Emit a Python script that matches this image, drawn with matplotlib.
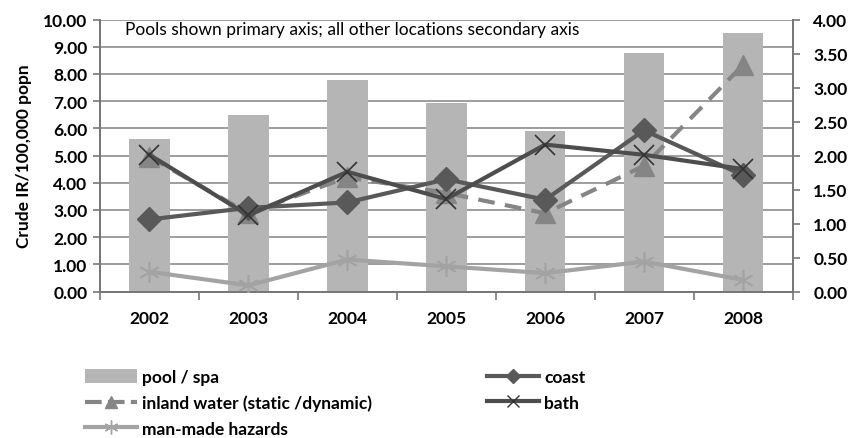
import matplotlib
matplotlib.use("Agg")
import matplotlib.pyplot as plt
import numpy as np
from matplotlib.lines import Line2D
from matplotlib.patches import Patch

years = ["2002", "2003", "2004", "2005", "2006", "2007", "2008"]
pool_spa = [5.62, 6.48, 7.79, 6.93, 5.91, 8.78, 9.52]
coast = [1.06, 1.23, 1.31, 1.65, 1.35, 2.37, 1.71]
inland_water = [1.98, 1.15, 1.68, 1.45, 1.15, 1.85, 3.33]
bath = [2.01, 1.12, 1.76, 1.36, 2.16, 2.01, 1.80]
man_made = [0.29, 0.09, 0.47, 0.37, 0.27, 0.44, 0.17]

plt.rcParams['font.family'] = ['Lato', 'DejaVu Sans']

W, H = 860, 439
fig = plt.figure(figsize=(W / 100, H / 100), dpi=100)
ax = fig.add_axes([100 / W, (H - 292.5) / H, (792.5 - 100) / W, (292.5 - 20.5) / H])
ax2 = ax.twinx()

FS = 12.5
x = np.arange(len(years))
ax.bar(x, pool_spa, width=0.41, color='#b5b5b5', zorder=2)
ax.set_xlim(-0.5, len(years) - 0.5)
ax.set_ylim(0, 10)
ax.set_yticks(np.arange(0, 10.01, 1))
ax.set_yticklabels([f"{v:.2f}" for v in np.arange(0, 10.01, 1)], fontweight='bold', fontsize=FS)
ax.grid(axis='y', color='#8c8c8c', linewidth=1.2, zorder=0)
ax.set_axisbelow(True)
ax.set_xticks(x)
ax.set_xticklabels(years, fontweight='bold', fontsize=FS)
ax.set_xticks(np.arange(-0.5, len(years), 1), minor=True)
ax.tick_params(axis='x', which='major', length=0, pad=13)
ax.tick_params(axis='x', which='minor', length=6, width=1.2, color='#777777', direction='out')
ax.tick_params(axis='y', length=5, width=1.2, color='#777777', pad=4)
ax.set_ylabel("Crude IR/100,000 popn", fontweight='bold', fontsize=FS, labelpad=8)

ax2.set_ylim(0, 4)
ax2.set_yticks(np.arange(0, 4.01, 0.5))
ax2.set_yticklabels([f"{v:.2f}" for v in np.arange(0, 4.01, 0.5)], fontweight='bold', fontsize=FS)
ax2.tick_params(axis='y', length=5, width=1.2, color='#777777', pad=10)

for a in (ax, ax2):
    a.spines['top'].set_visible(False)
    for s in ['left', 'right', 'bottom']:
        a.spines[s].set_color('#777777')
        a.spines[s].set_linewidth(1.3)

ax2.plot(x, man_made, color='#a3a3a3', linewidth=3, marker=(6, 2, 0), markersize=15,
         markeredgewidth=1.2, markeredgecolor='#a3a3a3', zorder=3)
ax2.plot(x, inland_water, color='#858585', linewidth=3, linestyle=(0, (4, 2.5)), marker='^',
         markersize=15, markerfacecolor='#858585', markeredgecolor='#858585', zorder=3)
ax2.plot(x, coast, color='#595959', linewidth=3, marker='D', markersize=12,
         markerfacecolor='#595959', markeredgecolor='#595959', zorder=4)
ax2.plot(x, bath, color='#4d4d4d', linewidth=3, marker='x', markersize=15,
         markeredgewidth=1.2, markeredgecolor='#333333', zorder=4)

ax.text(125 / W, (H - 30) / H, "Pools shown primary axis; all other locations secondary axis",
        transform=fig.transFigure, ha='left', va='center', fontsize=12.5)

h_pool = Patch(facecolor='#b5b5b5', edgecolor='none')
h_inland = Line2D([], [], color='#858585', linewidth=3, linestyle=(0, (4, 1.5)), marker='^',
                  markersize=9, markerfacecolor='#858585', markeredgecolor='#858585')
h_man = Line2D([], [], color='#a3a3a3', linewidth=3, marker=(6, 2, 0), markersize=10,
               markeredgecolor='#a3a3a3')
h_coast = Line2D([], [], color='#595959', linewidth=3, marker='D', markersize=7,
                 markerfacecolor='#595959', markeredgecolor='#595959')
h_bath = Line2D([], [], color='#4d4d4d', linewidth=3, marker='x', markersize=9,
                markeredgecolor='#333333')

common = dict(loc='upper left', frameon=False, handlelength=3.0, handleheight=0.8,
              labelspacing=0.55, handletextpad=0.3, borderpad=0, borderaxespad=0,
              prop={'weight': 'bold', 'size': FS})
leg1 = fig.legend([h_pool, h_inland, h_man],
                  ["pool / spa", "inland water (static /dynamic)", "man-made hazards"],
                  bbox_to_anchor=(85 / W, (H - 370) / H), **common)
leg2 = fig.legend([h_coast, h_bath], ["coast", "bath"],
                  bbox_to_anchor=(487 / W, (H - 370) / H), **common)

fig.savefig("out.png", dpi=100)
